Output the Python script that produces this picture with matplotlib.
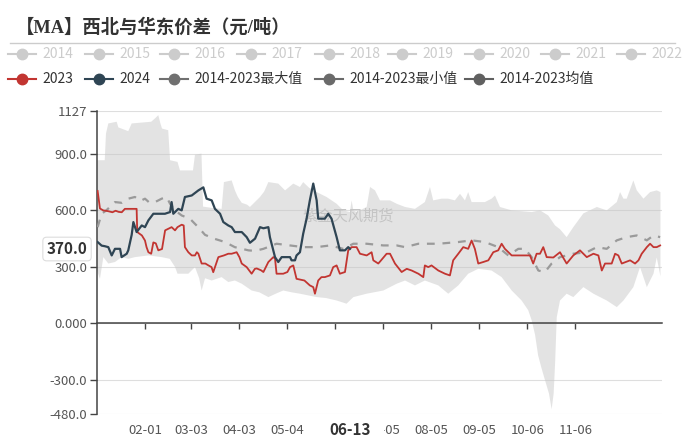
import matplotlib
matplotlib.use('Agg')
import matplotlib.pyplot as plt
import matplotlib.transforms as mtransforms
from matplotlib.lines import Line2D
from matplotlib.patches import Rectangle
import numpy as np

plt.rcParams['font.family'] = ['Noto Sans CJK SC', 'DejaVu Sans']

# day of year (0 = 01-01) and value
d23 = [0.4, 1.9, 4, 7, 10, 12, 14, 16, 18, 25.6, 26, 29, 31, 32, 33.2, 35, 36.4, 38, 39.6, 42,
       44, 46, 48.2, 50.4, 52, 54.7, 56, 56.8, 59, 61.2, 63.3, 64.5, 65.5, 67.6, 70, 72, 74, 75.1,
       77, 78.4, 82, 84.8, 87, 90.2, 92, 93.5, 96.7, 99.9, 102, 103.2, 106, 107.5, 110.7, 113.9,
       115, 116, 120.3, 123, 124.7, 126.8, 128.9, 134, 137.5, 139.7, 140.8, 142.9, 145, 147.2,
       150.5, 152.6, 154.8, 156.9, 160.2, 162.3, 164.5, 167.7, 169.9, 174.2, 177.4, 178.5, 181.7,
       183, 187.1, 189.3, 192.5, 196.8, 200.1, 203.3, 207.6, 210.8, 211.8, 214, 216.1, 220.5,
       224.8, 228, 230.1, 233.4, 236.6, 239.8, 242, 244.1, 246.3, 249.5, 252.8, 256, 259.2,
       261.4, 263.5, 267.9, 272.2, 279.7, 281.8, 284, 286.2, 288.3, 290.5, 294.8, 299.1, 303.4,
       307.7, 312, 316.4, 320.7, 323.9, 326.1, 328.2, 332.5, 334.7, 336.8, 339, 344.4, 347.6,
       349.8, 351.9, 355.2, 357.3, 359.5, 361.6, 363.8]
v23 = [703, 610, 600, 596, 590, 598, 592, 590, 608, 608, 485, 467, 440, 405, 378, 370, 430, 425, 388, 395,
       494, 502, 511, 494, 511, 524, 520, 405, 378, 361, 361, 378, 370, 318, 318, 308, 299, 272,
       318, 352, 361, 370, 370, 378, 352, 318, 299, 264, 290, 292, 282, 273, 326, 352,
       345, 264, 264, 273, 299, 308, 237, 228, 202, 193, 158, 228, 246, 246,
       255, 299, 308, 264, 273, 388, 405, 405, 370, 361, 378, 335, 318,
       330, 370, 370, 318, 273, 290, 281, 264, 246, 308, 299, 308, 281,
       264, 255, 335, 370, 405, 396, 440, 396, 318, 326, 335, 378, 388,
       423, 396, 361, 361, 361, 318, 370, 370, 405, 352, 350, 378, 318,
       361, 388, 352, 370, 361, 281, 318, 318, 370, 361, 318, 335, 318,
       335, 370, 405, 423, 405, 405, 414]

d24 = [0.4, 3, 5, 7.3, 9.5, 11.6, 14.9, 15.9, 19.2, 20.2, 22.4, 23.5, 25.6, 28.9, 31, 33.2, 36.4,
       43.9, 47.2, 48.2, 49.3, 52.5, 54.7, 56.8, 61.2, 65.5, 68.7, 70.8, 74.1, 76.2, 79.5, 81.6,
       84.8, 87, 89.1, 93.5, 96.7, 98.8, 102.1, 105.3, 107.5, 110.7, 111.7, 115, 117.1, 119.3,
       124.7, 125.7, 127.9, 128.9, 131.1, 133.2, 135.4, 137.5, 139.7, 141.9, 142.9, 147.2, 149.4,
       151.5, 154.8, 156.9, 160.2, 162.3, 163.4]
v24 = [432, 413, 410, 405, 361, 396, 396, 352, 370, 388, 470, 538, 485, 520, 511, 547, 582,
       582, 591, 644, 582, 608, 600, 671, 679, 706, 722, 662, 653, 608, 582, 538,
       520, 511, 485, 485, 458, 428, 450, 511, 505, 511, 458, 352, 326, 352,
       352, 335, 335, 361, 378, 476, 556, 653, 742, 653, 556, 556, 582,
       556, 458, 388, 388, 405, 396]

d_avg = [0.4, 3, 6, 11.6, 16, 20.2, 24.5, 28, 31, 34, 37.5, 41.8, 45, 47.2, 50.4, 54.7, 60, 65.5,
         69.8, 76, 82.7, 89, 97.8, 102, 107.5, 116, 124.7, 133.2, 141.9, 150.5, 159.1, 165.6,
         174.2, 185, 193.6, 199, 207.6, 220.5, 233.4, 242, 250.6, 259.2, 265.7, 272.2, 276.5,
         280.8, 285.1, 289.4, 293.7, 299.1, 307.7, 316.4, 322.9, 329.3, 335.8, 342.2, 348.7,
         355.2, 359.5, 363.8]
v_avg = [511, 582, 600, 644, 640, 662, 671, 650, 662, 640, 644, 662, 671, 635, 600, 573, 556, 510,
         470, 449, 432, 405, 388, 385, 396, 423, 414, 405, 405, 414, 396, 423,
         423, 414, 414, 405, 423, 423, 432, 441, 432, 405, 361, 396, 396,
         352, 281, 273, 318, 352, 370, 378, 405, 396, 441, 458, 467,
         441, 467, 458]

d_max = [0, 5, 5.8, 7.3, 12.7, 13.8, 20.2, 22.4, 35, 37.5, 39.6, 41, 42, 46, 47.2, 52, 53.6, 62,
         63.3, 67.5, 68.5, 75, 80.5, 82, 87, 89.1, 91, 93.5, 97, 98.8, 105.3, 108, 110.7, 117.1,
         121.5, 126.8, 131.1, 133.2, 137, 141.9, 148.3, 154.8, 159.1, 163.4, 164.5, 165.6, 167.7,
         174.2, 176.4, 179.6, 182.8, 189.3, 193.6, 199, 205.4, 211.8, 215.1, 217.2, 222.6, 226.9,
         231.2, 234.5, 237.7, 239.8, 242, 250.6, 254.9, 257.1, 260.3, 267.9, 280.8, 286.2, 291.5,
         295.9, 299.1, 303.4, 307.7, 314.2, 322.9, 329.3, 335.8, 337.9, 340.1, 342.2, 346.5,
         348.7, 353, 357.3, 361.6, 364]
v_max = [866, 866, 1007, 1061, 1070, 1040, 1020, 1061, 1070, 1088, 1105, 1060, 1034, 1025, 866, 857, 812, 812,
         895, 901, 620, 612, 608, 750, 759, 706, 671, 640, 630, 618, 671, 700, 750, 742,
         706, 742, 724, 750, 720, 697, 671, 635, 600, 591, 653, 600, 591,
         618, 724, 706, 653, 653, 635, 618, 608, 644, 724, 653, 662, 662,
         653, 688, 653, 697, 644, 644, 662, 679, 618, 600, 591, 600, 573,
         520, 500, 458, 511, 584, 618, 600, 644, 697, 662, 662, 759,
         706, 662, 697, 706, 697]

d_min = [0, 1.9, 4.1, 7.3, 11.6, 15.9, 20.2, 24.5, 33.2, 41.8, 47, 50.4, 52, 59, 63.3, 66, 67.6,
         69.8, 74.1, 80.5, 84.8, 89.1, 93.5, 99.9, 105, 110.7, 116, 120.3, 126, 131.1, 141.9, 148,
         154.8, 161.2, 165.6, 174.2, 185, 193.6, 199, 205.4, 211.8, 220.5, 226.9, 233.4, 239.8,
         246.3, 254.9, 261.4, 267.9, 274.3, 278.6, 280.8, 283, 285, 287, 289.4, 292, 293.7, 295,
         296, 297, 299.1, 303.4, 307.7, 314.2, 320.7, 329.3, 335.8, 340.1, 346.5, 350.8, 355.2,
         359.5, 361.6, 364]
v_min = [281, 237, 352, 318, 326, 352, 343, 352, 361, 352, 343, 300, 264, 264, 299, 240, 175,
         240, 228, 246, 220, 228, 211, 175, 165, 140, 160, 175, 165, 158, 140, 135,
         122, 105, 140, 158, 175, 211, 228, 202, 228, 202, 158, 202, 264,
         290, 281, 246, 175, 122, 70, 17, -60, -170, -232, -300, -372, -455, -372,
         -200, 33, 122, 158, 140, 193, 158, 122, 87, 122, 193, 299, 193,
         264, 350, 250]

tick_days = [31, 61, 92, 123, 154, 185, 216, 247, 278, 309]
tick_labels = ['02-01', '03-03', '04-03', '05-04', '06-04', '07-05', '08-05', '09-05', '10-06', '11-06']
y_ticks = [-480, -300, 0, 300, 600, 900, 1127]
y_labels = ['-480.0', '-300.0', '0.000', '300.0', '600.0', '900.0', '1127']

legend_row1 = ['2014', '2015', '2016', '2017', '2018', '2019', '2020', '2021', '2022']
legend_row2 = ['2023', '2024', '2014-2023最大值', '2014-2023最小值', '2014-2023均值']

C23 = '#c23531'
C24 = '#2f4554'

W, H = 700, 442


def fx(px):
    return px / W


def fy(py):
    return 1 - py / H


fig = plt.figure(figsize=(W / 100, H / 100), dpi=100)
ax = fig.add_axes([fx(97), fy(414), 565 / W, 303 / H])

ax.fill(np.r_[d_max, d_min[::-1]], np.r_[v_max, v_min[::-1]],
        color='#c8c8c8', alpha=0.5, lw=0, zorder=1)
ax.text(162, 568, '紫金天风期货', color='#c4c4c4', fontsize=11, ha='center', va='center', zorder=2)
ax.plot(d_avg, v_avg, color='#9a9a9a', lw=1.6, dashes=(3.5, 3.5), zorder=3)
ax.plot(d23, v23, color=C23, lw=1.3, zorder=4)
ax.plot(d24, v24, color=C24, lw=1.6, zorder=5)

ax.set_xlim(0, 365)
ax.set_ylim(-480, 1127)
ax.set_yticks(y_ticks)
ax.set_yticklabels(y_labels)
ax.set_xticks(tick_days)
ax.yaxis.grid(True, color='#dedede', lw=0.8)
ax.set_axisbelow(True)

for s in ['top', 'right']:
    ax.spines[s].set_visible(False)
ax.spines['left'].set_color('#444')
ax.spines['left'].set_linewidth(1.1)
ax.spines['bottom'].set_position(('data', 0))
ax.spines['bottom'].set_color('#444')
ax.spines['bottom'].set_linewidth(1.1)

ax.tick_params(axis='y', length=5, width=1, color='#444', labelsize=9.5, labelcolor='#555', pad=2)
ax.tick_params(axis='x', length=4, width=1, color='#444', labelbottom=False)

btrans = mtransforms.blended_transform_factory(ax.transData, ax.transAxes)
for d, lab in zip(tick_days, tick_labels):
    ax.text(d, -0.053, lab, transform=btrans, ha='center', va='center',
            fontsize=9.5, color='#555', clip_on=False)

# axis pointer labels (the x one sits over the 06-04 / 07-05 labels)
ax.add_patch(Rectangle((139, -0.1), 46.5, 0.085, transform=btrans, facecolor='white',
                       edgecolor='none', clip_on=False, zorder=6))
ax.text(163.4, -0.053, '06-13', transform=btrans, ha='center', va='center',
        fontsize=11, fontweight='bold', color='#333', clip_on=False, zorder=7)
ytrans = mtransforms.blended_transform_factory(ax.transAxes, ax.transData)
ax.text(-0.017, 395, '370.0', transform=ytrans, ha='right', va='center',
        fontsize=11, fontweight='bold', color='#333', clip_on=False, zorder=7,
        bbox=dict(boxstyle='round,pad=0.25', facecolor='white', edgecolor='#dddddd', lw=0.8))

# title
fig.text(fx(16), fy(27), '【MA】西北与华东价差（元/吨）', fontsize=13.2, fontweight='bold',
         color='#333', va='center', ha='left', family=['Liberation Serif', 'Noto Sans CJK SC'])
fig.add_artist(Line2D([fx(10), fx(675)], [fy(43), fy(43)], color='#cccccc', lw=1,
                      transform=fig.transFigure))


def legend_item(x0, y, label, color, tcolor):
    fig.add_artist(Line2D([fx(x0), fx(x0 + 28)], [fy(y), fy(y)], color=color, lw=1.5,
                          transform=fig.transFigure))
    fig.add_artist(Line2D([fx(x0 + 14)], [fy(y)], marker='o', markersize=7.5, color=color,
                          transform=fig.transFigure))
    fig.text(fx(x0 + 34), fy(y), label, fontsize=10, color=tcolor, va='center', ha='left')


row1_x = [8, 85, 160, 237, 315, 388, 465, 541, 617]
for x0, lab in zip(row1_x, legend_row1):
    legend_item(x0, 54, lab, '#cccccc', '#cccccc')

row2_x = [8, 85, 160, 315, 465]
row2_c = [C23, C24, '#707070', '#6a6a6a', '#606060']
for x0, lab, c in zip(row2_x, legend_row2, row2_c):
    legend_item(x0, 79, lab, c, '#333')

fig.savefig('out.png', dpi=100)
